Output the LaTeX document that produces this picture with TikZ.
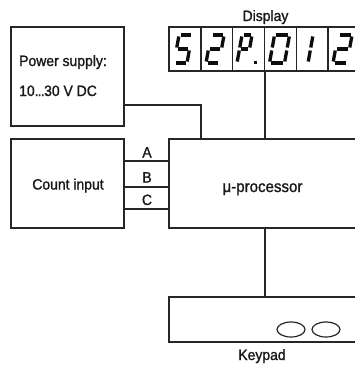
\documentclass[tikz,border=0pt]{standalone}
\usepackage{fontspec}
\setmainfont[FakeStretch=0.93,FakeBold=1.3]{Liberation Sans}
\usepackage{tikz}
\usetikzlibrary{positioning,shapes.geometric}
\definecolor{ink}{gray}{0.15}
\definecolor{txt}{gray}{0.1}
\definecolor{segc}{gray}{0.05}

\tikzset{
  unit/.style={draw=ink,line width=2.2pt,inner sep=0pt},
  wire/.style={draw=ink,line width=2pt},
  cellsep/.style={draw=ink,line width=1.5pt},
  lbl/.style={font=\fontsize{15}{16}\selectfont,text=txt,inner sep=0pt},
  segline/.style={draw=segc,line width=3.3pt,shorten <=1.5pt,shorten >=1.5pt},
}

% segments of one digit, bottom left at (0,0), y grows downwards
\def\sega{(0,-28) -- (\segw,-28)}
\def\segb{(\segw,-28) -- (\segw,-14)}
\def\segc{(\segw,-14) -- (\segw,0)}
\def\segd{(0,0) -- (\segw,0)}
\def\sege{(0,0) -- (0,-14)}
\def\segf{(0,-14) -- (0,-28)}
\def\segg{(0,-14) -- (\segw,-14)}

\newcommand{\sevenseg}[3]{%
  \begin{scope}[shift={(#1,63)},xslant=0.18]
    \def\segw{#2}
    \foreach \s in {#3}
      {\expandafter\let\expandafter\segpath\csname seg\s\endcsname
       \draw[segline] \segpath;}
  \end{scope}}

\begin{document}
\begin{tikzpicture}[x=1pt,y=-1pt]
  \clip (0,0) rectangle (355,365);
  \node[unit,minimum width=113pt,minimum height=99pt] (psu) at (67.5,76.5) {};
  \node[unit,minimum width=113pt,minimum height=89pt] (cnt) at (67.5,183.5) {};
  \node[unit,minimum width=193pt,minimum height=89pt] (cpu) at (265.5,183.5) {};
  \node[unit,minimum width=191pt,minimum height=44pt] (disp) at (264.5,49) {};
  \node[unit,minimum width=193pt,minimum height=45pt] (keys) at (265.5,319.5) {};
  \node[lbl,anchor=base west] (psutitle) at (19,66) {Power supply:};
  \node[lbl,anchor=base west] (psuvolt) at (19,96) {10.\kern-0.8pt.\kern-0.8pt.\kern-0.6pt30 V DC};
  \node[lbl,anchor=base] (cntlbl) at (68,189.5) {Count input};
  \node[lbl,font=\fontsize{16.2}{17}\selectfont,anchor=base] (cpulbl) at (262.5,192) {μ-processor};
  \node[lbl,anchor=base] (displbl) at (265.5,21) {Display};
  \node[lbl,anchor=base] (keylbl) at (262,360) {Keypad};
  % display cells
  \foreach \i in {1,...,5}
    {\draw[cellsep] ({169+31.83*\i},27) -- ({169+31.83*\i},71);}
  \sevenseg{174}{13}{a,f,g,c,d}
  \sevenseg{206}{13}{a,b,g,e,d}
  \sevenseg{237}{10}{a,b,f,g,e}
  \fill[segc] (254.2,60.8) rectangle (257.2,63.8);
  \sevenseg{269.5}{15}{a,b,c,d,e,f}
  \sevenseg{308}{0}{b,c}
  \sevenseg{333}{14}{a,b,g,e,d}
  % keys
  \node[draw=ink,line width=1.2pt,ellipse,minimum width=28pt,minimum height=15pt,inner sep=0pt] (key1) at (291,329.5) {};
  \node[draw=ink,line width=1.2pt,ellipse,minimum width=28pt,minimum height=15pt,inner sep=0pt] (key2) at (326,329.5) {};
  % connections
  \draw[wire] (psu.east |- 0,105) -| (cpu.north -| 201,0);
  \draw[wire] (disp.south) -- (disp.south |- cpu.north);
  \draw[wire] (cpu.south -| 265,0) -- (keys.north -| 265,0);
  \foreach \y/\ly/\l in {161/157.5/A,186.5/182.5/B,209/205/C}
    {\draw[wire] (cnt.east |- 0,\y) -- (cpu.west |- 0,\y);
     \node[lbl,anchor=base] (in\l) at (147,\ly) {\l};}
\end{tikzpicture}
\end{document}
